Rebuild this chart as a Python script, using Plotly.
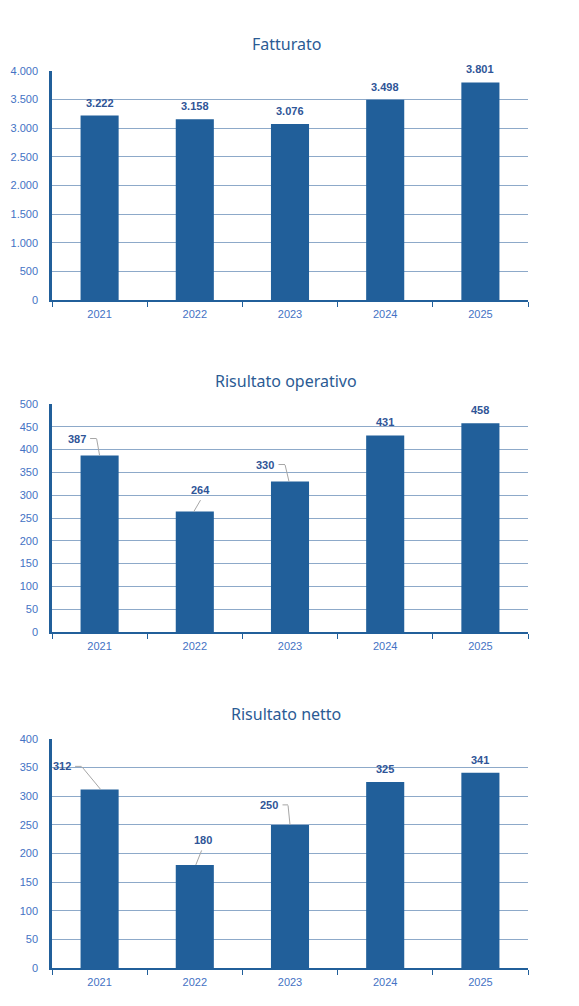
import plotly.graph_objects as go
from plotly.subplots import make_subplots

# DATA
years = ['2021', '2022', '2023', '2024', '2025']
fatturato = [3222, 3158, 3076, 3498, 3801]
risultato_operativo = [387, 264, 330, 431, 458]
risultato_netto = [312, 180, 250, 325, 341]
titles = ['Fatturato', 'Risultato operativo', 'Risultato netto']
y_max = [4000, 500, 400]
y_step = [500, 50, 50]

# LABEL PLACEMENT: pixel offset of label centre from bar top (screen coords, y down)
# and the leader line path (list of points, same coords); None = default above the bar
label_offsets = [
    [None, None, None, None, None],
    [(-23, -17), (6, -22), (-25, -17), None, None],
    [(-38, -23), (8, -25), (-21, -20), None, None],
]
leader_paths = [
    [None, None, None, None, None],
    [[(-10, -17), (-3, -17), (0, 0)], [(6, -12), (-1, 0)], [(-12, -17), (-5, -17), (-1, 0)], None, None],
    [[(-25, -23), (-18, -23), (1, 0)], [(7, -15), (1, 0)], [(-8, -20), (-2, -20), (0, 0)], None, None],
]

BAR = '#215F9A'
AXIS = '#215F9A'
GRID = '#8DA9C9'
TICKTXT = '#4472C4'
LABELTXT = '#2F5597'
TITLETXT = '#2B5B94'
LEADER = '#A6A6A6'

W, H = 579, 1006
PAD = 8  # page body margin
x_dom = [(52 - PAD) / W, (528 - PAD) / W]
y_doms = [[1 - (300 - PAD) / H, 1 - (71 - PAD) / H],
          [1 - (632 - PAD) / H, 1 - (404 - PAD) / H],
          [1 - (968 - PAD) / H, 1 - (739 - PAD) / H]]
title_y = [1 - (44 - PAD) / H, 1 - (381 - PAD) / H, 1 - (714 - PAD) / H]

fig = make_subplots(rows=3, cols=1)

series = [fatturato, risultato_operativo, risultato_netto]
label_font = dict(family='Liberation Sans, Arial', size=11, color=LABELTXT)


def fmt(v):
    return f'{v:,}'.replace(',', '.')


for i, vals in enumerate(series):
    row = i + 1
    fig.add_trace(go.Bar(x=years, y=vals, marker=dict(color=BAR, line=dict(width=0)),
                         showlegend=False, hoverinfo='x+y'), row=row, col=1)

    xa = 'x' if i == 0 else f'x{row}'
    ya = 'y' if i == 0 else f'y{row}'
    # DATA LABELS (x given as category index)
    for j, v in enumerate(vals):
        off = label_offsets[i][j]
        lx, ly = off if off else (0, -13)
        fig.add_annotation(x=j, y=v, xref=xa, yref=ya, text=f'<b>{fmt(v)}</b>',
                           showarrow=False, xanchor='center', yanchor='middle',
                           xshift=lx, yshift=-ly, font=label_font)
        # LEADER LINES, one annotation arrow per segment
        path = leader_paths[i][j]
        if path:
            for (x0, y0), (x1, y1) in zip(path[:-1], path[1:]):
                fig.add_annotation(x=j, y=v, xref=xa, yref=ya, text='', borderpad=0,
                                   showarrow=True, arrowhead=0, arrowwidth=1, arrowcolor=LEADER,
                                   standoff=0, startstandoff=0,
                                   xshift=x1, yshift=-y1, ax=x0 - x1, ay=y0 - y1)

    # TITLE
    fig.add_annotation(x=(286 - PAD) / W, y=title_y[i], xref='paper', yref='paper', text=titles[i],
                       showarrow=False, xanchor='center', yanchor='middle',
                       font=dict(family='Noto Sans', size=16, color=TITLETXT))

    # FORMAT AXES
    fig.update_xaxes(type='category', domain=x_dom, range=[-0.5, len(years) - 0.5],
                     showline=True, linecolor=AXIS, linewidth=1.5,
                     ticks='outside', tickson='boundaries', ticklen=5, tickcolor=AXIS, tickwidth=1,
                     ticklabelstandoff=3, showgrid=False,
                     tickfont=dict(family='Liberation Sans, Arial', size=11, color=TICKTXT),
                     automargin=False, row=row, col=1)
    fig.update_yaxes(domain=y_doms[i], range=[0, y_max[i]], dtick=y_step[i], tickformat=',d',
                     showline=True, linecolor=AXIS, linewidth=2.5, ticks='', ticklabelstandoff=9,
                     gridcolor=GRID, gridwidth=1, zeroline=False,
                     tickfont=dict(family='Liberation Sans, Arial', size=11, color=TICKTXT),
                     automargin=False, row=row, col=1)

fig.update_layout(width=W, height=H, margin=dict(l=0, r=0, t=0, b=0),
                  plot_bgcolor='white', paper_bgcolor='white', bargap=0.6,
                  separators=',.')

fig.write_html('out.html')
